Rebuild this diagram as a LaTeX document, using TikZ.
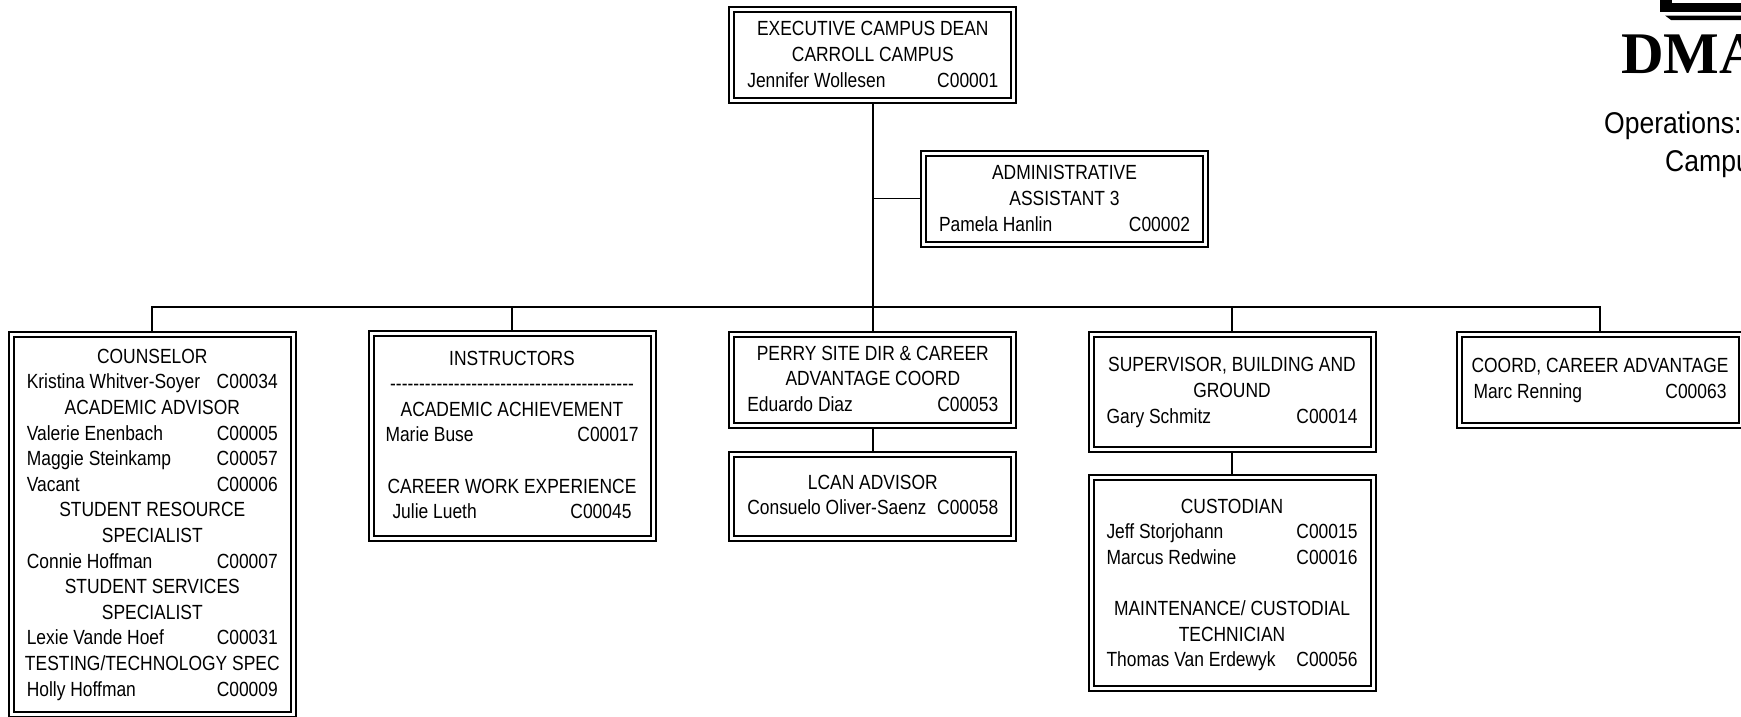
\documentclass[tikz,border=0pt]{standalone}
\usetikzlibrary{backgrounds}
\usepackage{fontspec}
\setmainfont{Liberation Sans}[FakeStretch=0.85]
\newfontfamily\logofont{Liberation Serif}
\newfontfamily\headfont{Liberation Sans}[FakeStretch=0.885]
\newcommand{\pline}[3][251pt]{\makebox[#1]{#2\hfill #3}}
\tikzset{
  orgbox/.style={draw=black, double=white, line width=2pt, double distance=3pt,
    inner sep=0pt},
  orgtext/.style={inner sep=0pt, align=center, font=\fontsize{20.5}{25.6}\selectfont},
  link/.style={draw=black, line width=1.8pt},
}
\begin{document}
\begin{tikzpicture}[x=1pt,y=-1pt]
\useasboundingbox (0,0) rectangle (1741,716);
\newcommand{\orgnode}[7]{%
  \node[orgbox, minimum width=#4pt, minimum height=#5pt] (#1) at (#2,#3) {};
  \node[orgtext] (#1-text) at ([yshift=#7pt]#1.center) {#6};}
\orgnode{dean}{872.8}{54.5}{282}{91}{EXECUTIVE CAMPUS DEAN\\CARROLL CAMPUS\\\pline{Jennifer Wollesen}{C00001}}{0}
\orgnode{admin}{1064.5}{198.5}{282}{91}{ADMINISTRATIVE\\ASSISTANT 3\\\pline{Pamela Hanlin}{C00002}}{0}
\orgnode{couns}{152.3}{524.5}{282}{380}{COUNSELOR\\\pline{Kristina Whitver-Soyer}{C00034}\\ACADEMIC ADVISOR\\\pline{Valerie Enenbach}{C00005}\\\pline{Maggie Steinkamp}{C00057}\\\pline{Vacant}{C00006}\\STUDENT RESOURCE\\SPECIALIST\\\pline{Connie Hoffman}{C00007}\\STUDENT SERVICES\\SPECIALIST\\\pline{Lexie Vande Hoef}{C00031}\\TESTING/TECHNOLOGY SPEC\\\pline{Holly Hoffman}{C00009}}{-0.2}
\orgnode{instr}{512}{436}{282}{204.5}{INSTRUCTORS\\{-}{-}{-}{-}{-}{-}{-}{-}{-}{-}{-}{-}{-}{-}{-}{-}{-}{-}{-}{-}{-}{-}{-}{-}{-}{-}{-}{-}{-}{-}{-}{-}{-}{-}{-}{-}{-}{-}{-}{-}{-}{-}\\ACADEMIC ACHIEVEMENT\\\pline[253pt]{Marie Buse}{C00017}\\ \\CAREER WORK EXPERIENCE\\\pline[239pt]{Julie Lueth}{C00045}}{1.1}
\orgnode{perry}{872.8}{379.5}{282}{91}{PERRY SITE DIR \& CAREER\\ADVANTAGE COORD\\\pline{Eduardo Diaz}{C00053}}{0.7}
\orgnode{lcan}{872.8}{496}{282}{84}{LCAN ADVISOR\\\pline{Consuelo Oliver-Saenz}{C00058}}{1}
\orgnode{sup}{1232}{391.5}{282}{115}{SUPERVISOR, BUILDING AND\\GROUND\\\pline{Gary Schmitz}{C00014}}{-1}
\orgnode{cust}{1232}{583}{282}{210.5}{CUSTODIAN\\\pline{Jeff Storjohann}{C00015}\\\pline{Marcus Redwine}{C00016}\\ \\MAINTENANCE/ CUSTODIAL\\TECHNICIAN\\\pline{Thomas Van Erdewyk}{C00056}}{-2}
\orgnode{coord}{1600}{379.5}{282}{91}{COORD, CAREER ADVANTAGE\\\pline[253pt]{Marc Renning}{C00063}}{-1}
% connectors, behind the double borders
\begin{pgfonlayer}{background}
\coordinate (bus) at (dean.south |- 0,307);
\draw[link] (dean.south) -- (bus);
\draw[link] (dean.south |- admin.west) -- (admin.west);
\draw[link] (couns.north) -- (couns.north |- bus) -- (coord.north |- bus) -- (coord.north);
\draw[link] (instr.north) -- (instr.north |- bus);
\draw[link] (bus) -- (perry.north);
\draw[link] (sup.north) -- (sup.north |- bus);
\draw[link] (perry.south) -- (lcan.north);
\draw[link] (sup.south) -- (cust.north);
\end{pgfonlayer}
% logo fragment and clipped heading
\fill[black] (1660,-1) -- (1741,-1) -- (1741,12) -- (1660,12) -- cycle;
\fill[white] (1672,-1) rectangle (1741,2.8);
\fill[black] (1665,15.5) -- (1741,15.5) -- (1741,20) -- (1671,20) -- cycle;
\node[anchor=base west, inner sep=0pt, font=\logofont\bfseries\fontsize{59}{59}\selectfont] (logo) at (1621,73.5) {DMA};
\node[anchor=base west, inner sep=0pt, font=\headfont\fontsize{30}{36}\selectfont] (ops) at (1604,133.3) {Operations:};
\node[anchor=base west, inner sep=0pt, font=\headfont\fontsize{30}{36}\selectfont] (camp) at (1665,171.7) {Campu};
\end{tikzpicture}
\end{document}
